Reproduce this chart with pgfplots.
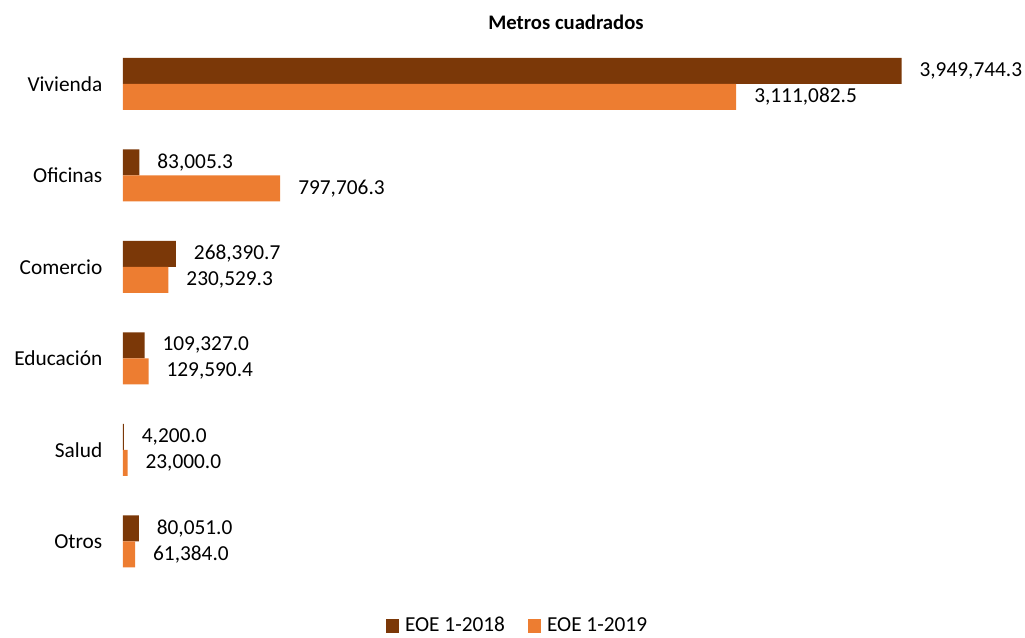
\documentclass[border=0pt]{standalone}
\usepackage{pgfplots}
\pgfplotsset{compat=1.18}
\usepackage{fontspec}
\setmainfont{Carlito}
\definecolor{dark}{RGB}{123,56,8}
\definecolor{light}{RGB}{237,125,49}
\begin{document}
\fontsize{16}{19}\selectfont
\begin{tikzpicture}[x=0.75pt,y=0.75pt]
\useasboundingbox (-123,-50) rectangle (902,587);
\begin{axis}[
	at={(0,0)}, anchor=south west,
	scale only axis,
	width=665.25pt, height=411.75pt,
	xbar, bar width=19.5pt,
	xmin=0, xmax=4500000,
	ymin=-0.5, ymax=5.5,
	ytick={0,1,2,3,4,5},
	yticklabels={Otros,Salud,Educación,Comercio,Oficinas,Vivienda},
	yticklabel style={font=\fontsize{16}{19}\selectfont, xshift=-10pt},
	xtick=\empty,
	major tick length=0pt,
	axis line style={draw=none},
	nodes near coords,
	every node near coord/.append style={font=\fontsize{16}{19}\selectfont, anchor=west, xshift=8pt,
		/pgf/number format/.cd, fixed, fixed zerofill, precision=1, 1000 sep={,}, assume math mode=true},
	legend style={at={(0.445,-0.071)}, anchor=center, draw=none, legend columns=2,
		font=\fontsize{16}{19}\selectfont, column sep=2.5pt,
		/tikz/every even column/.append style={column sep=15pt}},
	legend image code/.code={\fill[#1] (0pt,-5.2pt) rectangle (10pt,5.2pt);},
]
\addplot[fill=dark, draw=none, bar shift=9.75pt] coordinates {
	(80051.0,0) (4200.0,1) (109327.0,2) (268390.7,3) (83005.3,4) (3949744.3,5)};
\addplot[fill=light, draw=none, bar shift=-9.75pt] coordinates {
	(61384.0,0) (23000.0,1) (129590.4,2) (230529.3,3) (797706.3,4) (3111082.5,5)};
\legend{EOE 1-2018, EOE 1-2019}
\end{axis}
\node[font=\bfseries\fontsize{15.5}{18}\selectfont] at (443,565) {Metros cuadrados};
\end{tikzpicture}
\end{document}
